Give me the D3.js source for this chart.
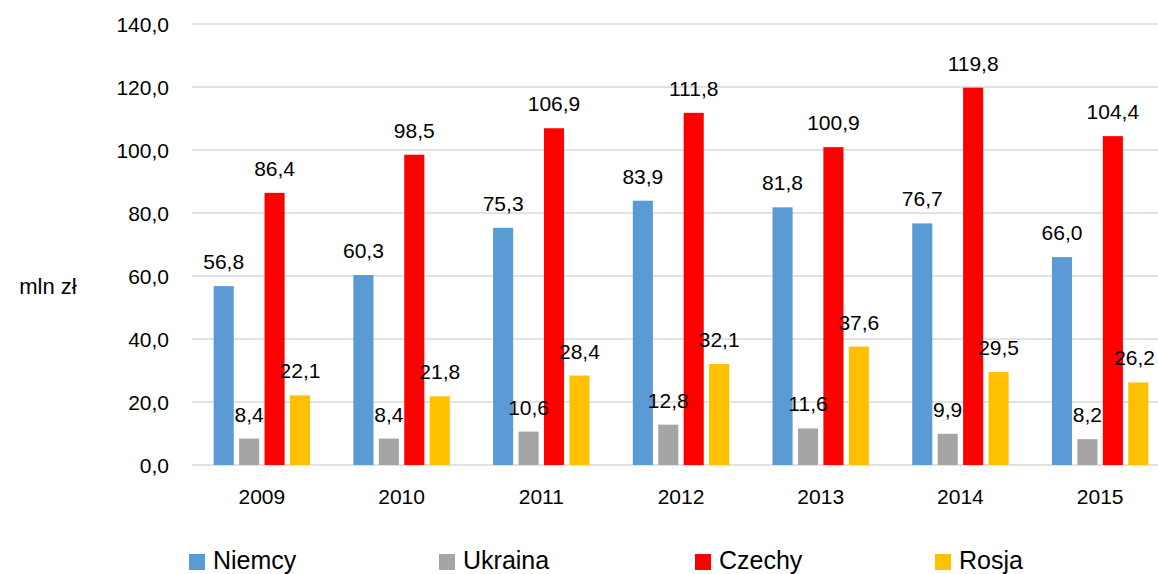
<!DOCTYPE html>
<html><head><meta charset="utf-8">
<script src="https://cdn.jsdelivr.net/npm/d3@7"></script>
<style>body{margin:0;background:#fff}svg{display:block}text{font-family:"Liberation Sans",Arial,sans-serif;fill:#000}</style>
</head><body><svg id="c" width="1158" height="574"></svg>
<script>
const years = ["2009","2010","2011","2012","2013","2014","2015"];
const seriesNames = ["Niemcy","Ukraina","Czechy","Rosja"];
const niemcy = [56.8,60.3,75.3,83.9,81.8,76.7,66.0];
const ukraina = [8.4,8.4,10.6,12.8,11.6,9.9,8.2];
const czechy = [86.4,98.5,106.9,111.8,100.9,119.8,104.4];
const rosja = [22.1,21.8,28.4,32.1,37.6,29.5,26.2];
const yTicks = [0,20,40,60,80,100,120,140];
const colors = ["#5B9BD5","#A5A5A5","#FF0000","#FFC000"];
const values = [niemcy, ukraina, czechy, rosja];

const W = 1158;
const svg = d3.select("#c");
const x0 = d3.scaleBand().domain(years).range([192,1170]).paddingInner(0.31).paddingOuter(0.155);
const x1 = d3.scaleBand().domain(seriesNames).range([0,x0.bandwidth()]).paddingInner(0.21);
const y = d3.scaleLinear().domain([0,140]).range([465,24]);
const fmt = v => d3.format(".1f")(v).replace(".",",");

// grid
svg.append("g").selectAll("line").data(yTicks).join("line")
  .attr("x1",192).attr("x2",W).attr("y1",d=>y(d)).attr("y2",d=>y(d))
  .attr("stroke","#D9D9D9").attr("stroke-width",1.5);

// y axis labels
const yAxis = d3.axisLeft(y).tickValues(yTicks).tickFormat(fmt).tickSize(0).tickPadding(0);
const ya = svg.append("g").attr("transform","translate(169,0)").call(yAxis);
ya.select(".domain").remove();
ya.selectAll("text").attr("font-size",21).attr("font-family","Liberation Sans, Arial, sans-serif").attr("fill","#000").attr("dy","0.35em");

// x axis labels
const xAxis = d3.axisBottom(x0).tickSize(0).tickPadding(0);
const xa = svg.append("g").attr("transform","translate(0,497)").call(xAxis);
xa.select(".domain").remove();
xa.selectAll("text").attr("font-size",21).attr("font-family","Liberation Sans, Arial, sans-serif").attr("fill","#000").attr("dy","0.35em");

// bars
const flat = [];
seriesNames.forEach((s,si)=>years.forEach((yr,i)=>flat.push({s,si,yr,v:values[si][i]})));
svg.append("g").selectAll("rect").data(flat).join("rect")
  .attr("x",d=>x0(d.yr)+x1(d.s)).attr("width",x1.bandwidth())
  .attr("y",d=>y(d.v)).attr("height",d=>y(0)-y(d.v))
  .attr("fill",d=>colors[d.si]);

// labels
svg.append("g").selectAll("text").data(flat).join("text")
  .attr("x",d=>x0(d.yr)+x1(d.s)+x1.bandwidth()/2).attr("y",d=>y(d.v)-17)
  .attr("text-anchor","middle").attr("font-size",21).text(d=>fmt(d.v))
  .each(function(){
    const w = this.getComputedTextLength();
    const cx = +this.getAttribute("x");
    if (cx + w/2 > W - 3) this.setAttribute("x", W - 3 - w/2);
  });

// y title
svg.append("text").attr("x",48).attr("y",294).attr("text-anchor","middle").attr("font-size",22).text("mln zł");

// legend
const legX = [189,439,695,935];
const lg = svg.append("g").selectAll("g").data(seriesNames).join("g")
  .attr("transform",(d,i)=>`translate(${legX[i]},554)`);
lg.append("rect").attr("width",16).attr("height",16).attr("fill",(d,i)=>colors[i]);
lg.append("text").attr("x",24).attr("y",15).attr("font-size",25).text(d=>d);
</script></body></html>
